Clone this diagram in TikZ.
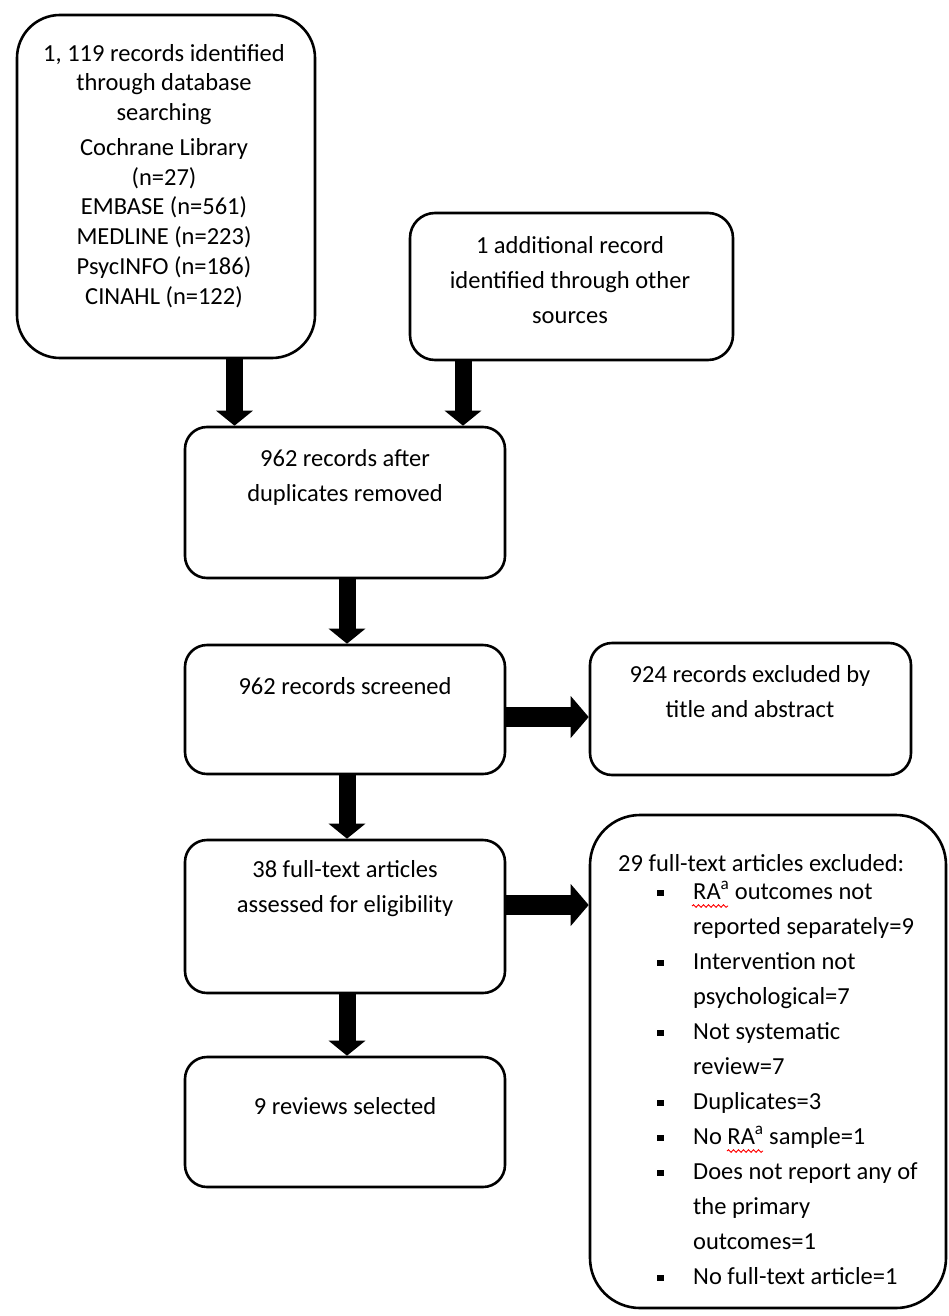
\documentclass[tikz,border=0pt]{standalone}
\usepackage{fontspec}
\setmainfont{Carlito}
\usetikzlibrary{arrows.meta,decorations.pathmorphing}
\newcommand\st{\rule[-7pt]{0pt}{26pt}}
\newcommand\bul{\makebox[36pt][l]{\rule[2.75pt]{6.5pt}{6.5pt}}}
\newcommand\ind{\hspace*{36pt}}
\newcommand\rasup{RA\textsuperscript{a}}
\begin{document}
\begin{tikzpicture}[x=1pt,y=-1pt,
  box/.style={draw,line width=2.6pt,fill=white,rounded corners=22pt,inner sep=0pt},
  txt/.style={inner sep=0pt,align=center,font=\fontsize{24.5}{35}\selectfont},
  varrow/.style={line width=17pt,-{Triangle[width=36pt,length=15pt]}},
  harrow/.style={line width=20pt,-{Triangle[width=41pt,length=18pt]}},
  squig/.style={red,line width=0.9pt,decorate,decoration={snake,segment length=5pt,amplitude=1.3pt}}]
\useasboundingbox (0,0) rectangle (949,1316);

% boxes
\node[box,rounded corners=43pt,minimum width=298pt,minimum height=343pt] (A) at (166,186.5) {};
\node[box,rounded corners=25pt,minimum width=323pt,minimum height=147pt] (B) at (571.5,286.5) {};
\node[box,minimum width=320pt,minimum height=151pt] (C) at (345,502.5) {};
\node[box,minimum width=320pt,minimum height=129pt] (D) at (345,709.5) {};
\node[box,minimum width=321pt,minimum height=132pt] (E) at (750.5,709) {};
\node[box,minimum width=320pt,minimum height=153pt] (F) at (345,916.5) {};
\node[box,minimum width=320pt,minimum height=130pt] (G) at (345,1122) {};
\node[box,rounded corners=50pt,minimum width=356pt,minimum height=493pt] (H) at (768,1061.5) {};

% texts
\node[txt,font=\fontsize{24.5}{29.75}\selectfont] (At) at (164,176.5)
 {\st 1, 119 records identified\\through database\\searching\\[5pt]Cochrane Library\\(n=27)\\EMBASE (n=561)\\MEDLINE (n=223)\\PsycINFO (n=186)\\CINAHL (n=122)\st};
\node[txt] (Bt) at (570,282) {\st 1 additional record\\identified through other\\sources\st};
\node[txt] (Ct) at (345,477.5) {\st 962 records after\\duplicates removed\st};
\node[txt] (Dt) at (345,688) {\st 962 records screened\st};
\node[txt] (Et) at (750,693.5) {\st 924 records excluded by\\title and abstract\st};
\node[txt] (Ft) at (345,888.5) {\st 38 full-text articles\\assessed for eligibility\st};
\node[txt] (Gt) at (345,1108) {\st 9 reviews selected\st};
\node[txt,anchor=west] (Ht) at (618,865) {\st 29 full-text articles excluded:\st};
\node[txt,align=left,anchor=west] (Hl) at (657,1085.5)
 {\st\bul\rasup{} outcomes not\\
  \ind reported separately=9\\
  \bul Intervention not\\
  \ind psychological=7\\
  \bul Not systematic\\
  \ind review=7\\
  \bul Duplicates=3\\
  \bul No \rasup{} sample=1\\
  \bul Does not report any of\\
  \ind the primary\\
  \ind outcomes=1\\
  \bul No full-text article=1\st};

% spell-check marks
\draw[squig] (692,906) -- (728,906);
\draw[squig] (727,1151) -- (763,1151);

% arrows
\draw[varrow] ([xshift=68.5pt]A.south) -- ([xshift=68.5pt]A.south |- C.north);
\draw[varrow] ([xshift=-108.5pt]B.south) -- ([xshift=-108.5pt]B.south |- C.north);
\draw[varrow] ([xshift=2pt]C.south) -- ([xshift=2pt]D.north);
\draw[varrow] ([xshift=2pt]D.south) -- ([xshift=2pt]F.north);
\draw[varrow] ([xshift=2pt]F.south) -- ([xshift=2pt]G.north);
\draw[harrow] ([yshift=-7.5pt]D.east) -- ([yshift=-7.5pt]D.east -| E.west);
\draw[harrow] ([yshift=11.5pt]F.east) -- ([yshift=11.5pt]F.east -| H.west);
\end{tikzpicture}
\end{document}
